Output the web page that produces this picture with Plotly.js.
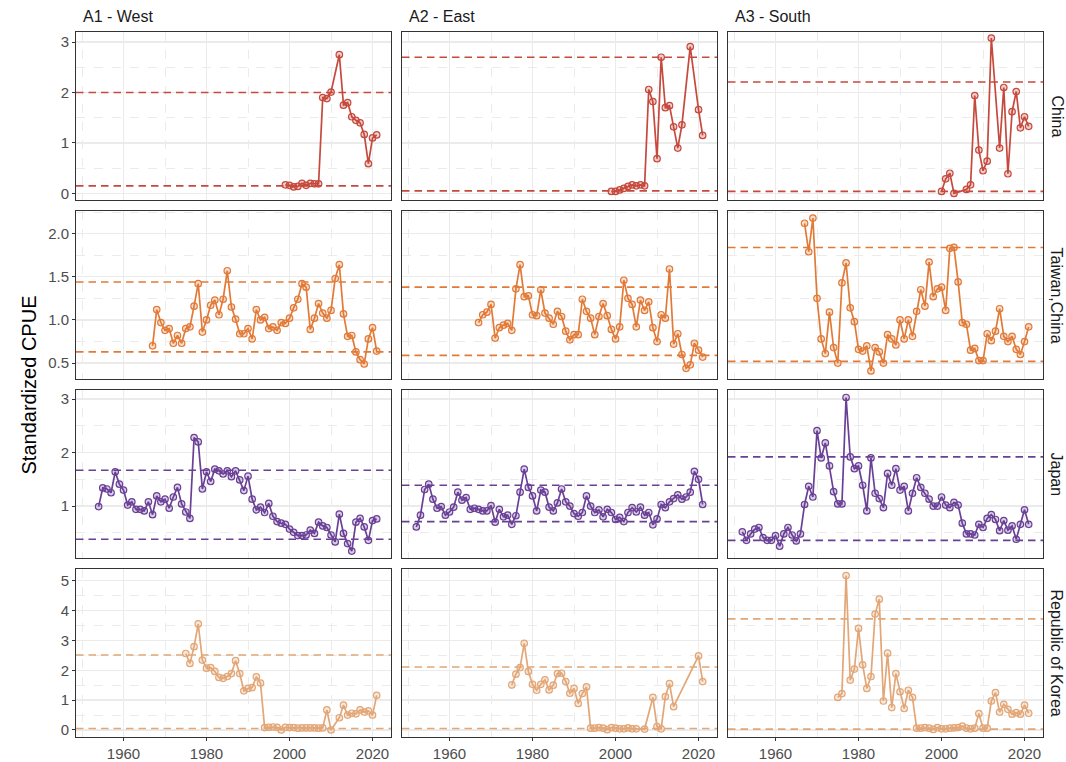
<!DOCTYPE html>
<html><head><meta charset="utf-8">
<script src="https://cdn.plot.ly/plotly-3.0.1.min.js"></script>
<style>html,body{margin:0;padding:0;background:#fff}#chart{width:1066px;height:762px}</style>
</head><body><div id="chart"></div>
<script>
// ---------- categories ----------
const regions = ['A1 - West', 'A2 - East', 'A3 - South'];
const fleets = ['China', 'Taiwan,China', 'Japan', 'Republic of Korea'];

// ---------- years ----------
const yearsChinaA1 = [1999,2000,2001,2002,2003,2004,2005,2006,2007,2008,2009,2010,2012,2013,2014,2015,2016,2017,2018,2019,2020,2021];
const yearsChinaA2 = [1999,2000,2001,2002,2003,2004,2005,2006,2007,2008,2009,2010,2011,2012,2013,2014,2015,2016,2018,2020,2021];
const yearsChinaA3 = [2000,2001,2002,2003,2006,2007,2008,2009,2010,2011,2012,2014,2015,2016,2017,2018,2019,2020,2021];
const years1967 = [1967,1968,1969,1970,1971,1972,1973,1974,1975,1976,1977,1978,1979,1980,1981,1982,1983,1984,1985,1986,1987,1988,1989,1990,1991,1992,1993,1994,1995,1996,1997,1998,1999,2000,2001,2002,2003,2004,2005,2006,2007,2008,2009,2010,2011,2012,2013,2014,2015,2016,2017,2018,2019,2020,2021];
const years1954 = [1954,1955,1956,1957,1958,1959,1960,1961,1962,1963,1964,1965,1966,1967,1968,1969,1970,1971,1972,1973,1974,1975,1976,1977,1978,1979,1980,1981,1982,1983,1984,1985,1986,1987,1988,1989,1990,1991,1992,1993,1994,1995,1996,1997,1998,1999,2000,2001,2002,2003,2004,2005,2006,2007,2008,2009,2010,2011,2012,2013,2014,2015,2016,2017,2018,2019,2020,2021];
const years1952 = [1952,1953,1954,1955,1956,1957,1958,1959,1960,1961,1962,1963,1964,1965,1966,1967,1968,1969,1970,1971,1972,1973,1974,1975,1976,1977,1978,1979,1980,1981,1982,1983,1984,1985,1986,1987,1988,1989,1990,1991,1992,1993,1994,1995,1996,1997,1998,1999,2000,2001,2002,2003,2004,2005,2006,2007,2008,2009,2010,2011,2012,2013,2014,2015,2016,2017,2018,2019,2020,2021];
const yearsKoreaA1 = [1975,1976,1977,1978,1979,1980,1981,1982,1983,1984,1985,1986,1987,1988,1989,1990,1991,1992,1993,1994,1995,1996,1997,1998,1999,2000,2001,2002,2003,2004,2005,2006,2007,2008,2009,2010,2012,2013,2014,2015,2016,2017,2018,2019,2020,2021];
const yearsKoreaA2 = [1975,1976,1977,1978,1979,1980,1981,1982,1983,1984,1985,1986,1987,1988,1989,1990,1991,1992,1993,1994,1995,1996,1997,1998,1999,2000,2001,2002,2003,2004,2005,2007,2009,2010,2011,2012,2013,2014,2020,2021];
const yearsKoreaA3 = [1975,1976,1977,1978,1979,1980,1981,1982,1983,1984,1985,1986,1987,1988,1989,1990,1991,1992,1993,1994,1995,1996,1997,1998,1999,2000,2001,2002,2003,2004,2005,2006,2007,2008,2009,2010,2011,2012,2013,2014,2015,2016,2017,2018,2019,2020,2021];

// ---------- standardized CPUE values ----------
const chinaA1 = [0.17,0.16,0.13,0.14,0.20,0.16,0.20,0.19,0.19,1.90,1.88,2.01,2.75,1.75,1.80,1.52,1.45,1.40,1.17,0.59,1.10,1.16];
const chinaA2 = [0.04,0.04,0.07,0.10,0.14,0.17,0.15,0.17,0.15,2.06,1.82,0.69,2.70,1.70,1.74,1.32,0.90,1.36,2.91,1.66,1.15];
const chinaA3 = [0.04,0.29,0.40,0.00,0.08,0.17,1.94,0.86,0.45,0.64,3.08,0.90,2.10,0.39,1.62,2.02,1.30,1.52,1.33];

const taiwanA1 = [0.70,1.12,0.97,0.88,0.90,0.73,0.82,0.73,0.90,0.92,1.16,1.42,0.86,1.00,1.17,1.23,1.06,1.24,1.57,1.15,1.01,0.84,0.84,0.90,0.78,1.12,1.00,1.03,0.90,0.92,0.88,0.97,0.96,1.02,1.14,1.24,1.42,1.38,0.89,1.02,1.19,1.08,1.02,1.11,1.48,1.64,1.07,0.81,0.82,0.63,0.54,0.49,0.78,0.91,0.64];
const taiwanA2 = [0.97,1.06,1.09,1.18,0.79,0.91,0.94,0.96,0.88,1.36,1.64,1.27,1.28,1.06,1.05,1.35,1.08,1.02,0.95,1.10,1.04,0.87,0.77,0.83,0.83,1.24,1.10,1.02,0.83,1.04,1.19,1.05,0.89,0.78,0.92,1.46,1.25,1.18,0.92,1.23,1.11,1.21,0.91,0.75,1.06,1.02,1.59,0.72,0.84,0.60,0.44,0.48,0.73,0.65,0.57];
const taiwanA3 = [2.12,1.79,2.18,1.25,0.78,0.61,1.09,0.68,0.50,1.43,1.66,1.14,0.98,0.66,0.64,0.70,0.41,0.68,0.63,0.50,0.83,0.78,0.71,1.00,0.78,1.00,0.81,1.10,1.35,1.16,1.67,1.27,1.36,1.38,1.11,1.83,1.84,1.44,0.97,0.95,0.65,0.67,0.53,0.53,0.84,0.76,0.87,1.13,0.81,0.75,0.81,0.66,0.60,0.75,0.92];

const japanA1 = [0.99,1.34,1.32,1.25,1.64,1.41,1.30,1.02,1.08,0.94,0.94,0.91,1.08,0.84,1.19,1.08,1.13,0.96,1.17,1.35,1.04,0.89,0.77,2.28,2.20,1.32,1.64,1.46,1.69,1.66,1.60,1.66,1.55,1.66,1.49,1.29,1.56,1.13,0.93,0.98,0.88,1.05,0.81,0.71,0.68,0.66,0.57,0.51,0.45,0.45,0.46,0.55,0.49,0.70,0.63,0.60,0.46,0.33,0.85,0.49,0.30,0.16,0.70,0.77,0.61,0.36,0.73,0.76];
const japanA2 = [0.61,0.83,1.31,1.41,1.13,0.96,0.99,0.83,0.89,0.98,1.26,1.11,1.16,0.94,0.96,0.94,0.91,0.91,1.01,0.70,0.94,0.80,0.83,0.66,0.82,1.26,1.69,1.35,1.19,0.91,1.30,1.26,0.98,0.91,1.06,1.32,1.08,1.00,0.86,0.81,0.88,1.19,1.00,0.88,0.93,0.80,0.94,0.88,0.75,0.79,0.71,0.88,0.97,0.89,0.98,0.83,0.88,0.65,0.76,1.03,0.97,1.08,1.14,1.21,1.13,1.17,1.26,1.65,1.50,1.03];
const japanA3 = [0.52,0.36,0.48,0.57,0.60,0.41,0.36,0.36,0.45,0.25,0.48,0.60,0.46,0.35,0.48,1.03,1.37,1.17,2.41,1.90,2.18,1.75,1.27,1.04,1.04,3.03,1.92,1.70,1.75,1.39,0.91,1.90,1.24,1.14,0.97,1.61,1.39,1.70,1.30,1.37,0.91,1.24,1.53,1.35,1.24,1.13,1.00,1.00,1.17,1.02,0.97,1.07,1.02,0.68,0.48,0.48,0.46,0.66,0.60,0.77,0.84,0.75,0.54,0.73,0.55,0.63,0.38,0.66,0.93,0.66];

const koreaA1 = [2.56,2.23,2.79,3.55,2.34,2.07,2.09,1.96,1.76,1.73,1.79,1.89,2.32,1.89,1.31,1.39,1.42,1.78,1.57,0.08,0.09,0.10,0.09,0.00,0.09,0.08,0.08,0.06,0.07,0.07,0.07,0.07,0.06,0.07,0.67,0.00,0.41,0.83,0.50,0.56,0.54,0.67,0.60,0.64,0.50,1.16];
const koreaA2 = [1.51,1.87,2.09,2.90,1.96,1.53,1.33,1.53,1.68,1.34,1.50,1.89,1.90,1.62,1.23,1.39,0.89,1.22,1.44,0.06,0.06,0.08,0.06,0.01,0.08,0.06,0.04,0.04,0.07,0.04,0.04,0.03,1.09,0.11,0.04,1.12,1.55,0.78,2.48,1.62];
const koreaA3 = [1.09,1.22,5.17,1.67,2.04,3.40,2.18,1.39,1.79,3.88,4.38,0.97,2.57,0.75,1.89,1.28,0.72,1.33,1.09,0.06,0.06,0.08,0.06,0.02,0.08,0.04,0.04,0.06,0.07,0.08,0.13,0.06,0.04,0.06,0.55,0.06,0.06,0.97,1.25,0.60,0.86,0.69,0.53,0.58,0.53,0.83,0.56];

// ---------- reference levels (dashed lines): [lower, upper] ----------
const refChina  = [[0.15, 2.00], [0.05, 2.70], [0.04, 2.21]];
const refTaiwan = [[0.63, 1.44], [0.59, 1.38], [0.52, 1.84]];
const refJapan  = [[0.38, 1.67], [0.71, 1.39], [0.36, 1.92]];
const refKorea  = [[0.05, 2.51], [0.05, 2.11], [0.03, 3.72]];

// ---------- assembly ----------
const panelYears = [
  [yearsChinaA1, yearsChinaA2, yearsChinaA3],
  [years1967, years1967, years1967],
  [years1954, years1952, years1952],
  [yearsKoreaA1, yearsKoreaA2, yearsKoreaA3]
];
const panelVals = [
  [chinaA1, chinaA2, chinaA3],
  [taiwanA1, taiwanA2, taiwanA3],
  [japanA1, japanA2, japanA3],
  [koreaA1, koreaA2, koreaA3]
];
const panelRefs = [refChina, refTaiwan, refJapan, refKorea];

const colors = ['#C6493D', '#E27A37', '#6A4096', '#E2A677'];
const fills  = ['rgba(198,73,61,0.25)', 'rgba(226,122,55,0.25)', 'rgba(106,64,150,0.25)', 'rgba(226,166,119,0.25)'];

const colDom = [[0, 315/967], [326/967, 641/967], [652/967, 1]];
const rowDom = [[537/705, 1], [358/705, 526/705], [179/705, 347/705], [0, 168/705]];
const yRanges = [[-0.13, 3.2], [0.316, 2.262], [0.03, 3.17], [-0.235, 5.39]];
const yDtick = [1, 0.5, 1, 1];
const yFmt = ['', '.1f', '', ''];
const xRange = [1948.55, 2024.45];

const FONT = 'Liberation Sans, Arial, Helvetica, sans-serif';
const traces = [];
const shapes = [];
const annotations = [];
const layout = {
  width: 1066, height: 762,
  margin: {l: 76, r: 23, t: 32, b: 25},
  paper_bgcolor: '#ffffff', plot_bgcolor: '#ffffff',
  showlegend: false,
  font: {family: FONT, color: '#4D4D4D'},
  shapes: shapes, annotations: annotations
};

for (let r = 0; r < 4; r++) {
  for (let c = 0; c < 3; c++) {
    const i = r * 3 + c;
    const xn = i === 0 ? 'x' : 'x' + (i + 1);
    const yn = i === 0 ? 'y' : 'y' + (i + 1);
    traces.push({
      type: 'scatter', mode: 'lines+markers',
      x: panelYears[r][c], y: panelVals[r][c],
      xaxis: xn, yaxis: yn,
      line: {color: colors[r], width: 1.7},
      marker: {symbol: 'circle', size: 6.5, color: fills[r], line: {color: colors[r], width: 1.2}},
      hoverinfo: 'skip', cliponaxis: true
    });
    panelRefs[r][c].forEach(v => {
      shapes.push({
        type: 'line', xref: xn + ' domain', yref: yn,
        x0: 0, x1: 1, y0: v, y1: v,
        line: {color: colors[r], width: 1.6, dash: '7.5px,5px'},
        layer: 'above'
      });
    });
    layout[i === 0 ? 'xaxis' : 'xaxis' + (i + 1)] = {
      domain: colDom[c], anchor: yn, range: xRange,
      tickmode: 'linear', tick0: 1960, dtick: 20,
      showticklabels: r === 3, ticks: r === 3 ? 'outside' : '',
      ticklen: 3, tickwidth: 1, tickcolor: '#333333',
      tickfont: {family: FONT, size: 15, color: '#4D4D4D'},
      showgrid: true, gridcolor: '#EBEBEB', gridwidth: 1.3,
      minor: {tickmode: 'linear', tick0: 1950, dtick: 10, showgrid: true, gridcolor: '#EBEBEB', griddash: 'dash', gridwidth: 1},
      showline: true, mirror: true, linecolor: '#333333', linewidth: 1,
      zeroline: false, fixedrange: true
    };
    layout[i === 0 ? 'yaxis' : 'yaxis' + (i + 1)] = {
      domain: rowDom[r], anchor: xn, range: yRanges[r],
      tickmode: 'linear', tick0: 0, dtick: yDtick[r], tickformat: yFmt[r],
      showticklabels: c === 0, ticks: c === 0 ? 'outside' : '',
      ticklen: 3, tickwidth: 1, tickcolor: '#333333',
      tickfont: {family: FONT, size: 15, color: '#4D4D4D'},
      showgrid: true, gridcolor: '#EBEBEB', gridwidth: 1.3,
      minor: {tickmode: 'linear', tick0: 0, dtick: yDtick[r] / 2, showgrid: true, gridcolor: '#EBEBEB', griddash: 'dash', gridwidth: 1},
      showline: true, mirror: true, linecolor: '#333333', linewidth: 1,
      zeroline: false, fixedrange: true
    };
  }
}

// column strip labels (top)
regions.forEach((name, c) => {
  annotations.push({
    text: name, xref: 'paper', yref: 'paper',
    x: colDom[c][0], y: 1, xanchor: 'left', yanchor: 'bottom',
    xshift: 5, yshift: 5, showarrow: false,
    font: {family: FONT, size: 16, color: '#1A1A1A'}
  });
});
// row strip labels (right)
fleets.forEach((name, r) => {
  annotations.push({
    text: name, xref: 'paper', yref: 'paper',
    x: 1, y: (rowDom[r][0] + rowDom[r][1]) / 2, xanchor: 'left', yanchor: 'middle',
    xshift: 3, showarrow: false, textangle: 90,
    font: {family: FONT, size: 16, color: '#1A1A1A'}
  });
});
// y axis title
annotations.push({
  text: 'Standardized CPUE', xref: 'paper', yref: 'paper',
  x: 0, y: 0.5, xanchor: 'right', yanchor: 'middle',
  xshift: -35, showarrow: false, textangle: -90,
  font: {family: FONT, size: 20, color: '#000000'}
});

Plotly.newPlot('chart', traces, layout, {displayModeBar: false, staticPlot: true});
</script></body></html>
